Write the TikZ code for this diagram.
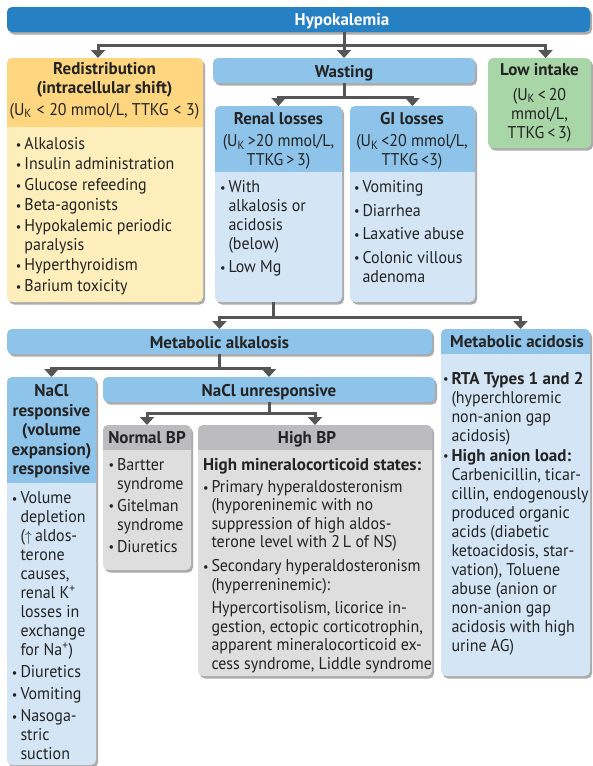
\documentclass[tikz,border=0pt]{standalone}
\usepackage{fontspec}
\setmainfont{PT Sans}[UprightFeatures={FakeStretch=0.94}, BoldFeatures={FakeStretch=1.0}]
\usepackage{tikz}
\usetikzlibrary{arrows.meta,shadows}

\definecolor{hypoblue}{RGB}{38,128,196}
\definecolor{headblue}{RGB}{143,196,234}
\definecolor{bodyblue}{RGB}{212,230,246}
\definecolor{yelhead}{RGB}{253,214,127}
\definecolor{yelbody}{RGB}{254,238,187}
\definecolor{lowgreen}{RGB}{168,214,166}
\definecolor{greyhead}{RGB}{188,188,190}
\definecolor{greybody}{RGB}{222,222,223}
\definecolor{ink}{RGB}{35,35,35}
\definecolor{wirec}{RGB}{85,85,85}

\newcommand{\UK}{U\textsubscript{K}}
\newcommand{\bul}{\makebox[8.5pt][l]{\raisebox{.3pt}{\fontsize{13}{13}\selectfont\textbullet}}}
\newcommand{\ind}{\hspace*{8.5pt}}

\begin{document}
\begin{tikzpicture}[x=1pt, y=-1pt,
    every node/.style={inner sep=0pt, outer sep=0pt, text=ink},
    card/.style={rounded corners=5pt, fill=#1,
      drop shadow={shadow xshift=2pt, shadow yshift=-2.5pt, fill=black!60, opacity=.55}},
    bar/.style={card=#1, anchor=north west, minimum height=25pt,
      text height=13.5pt, text depth=0pt, font=\fontsize{17}{19}\selectfont\bfseries},
    splitbox/.style n args={3}{card=#1, anchor=north west,
      path picture={\fill[#2, sharp corners] (path picture bounding box.north west)
        rectangle ([yshift=-#3pt]path picture bounding box.north east);}},
    tx/.style={font=\fontsize{17}{19}\selectfont, align=left, anchor=north west},
    hd/.style={font=\fontsize{17}{19}\selectfont, align=center, anchor=north},
    one/.style={font=\fontsize{17}{19}\selectfont\bfseries, anchor=base},
    wire/.style={draw=wirec, line width=3pt, line join=miter},
    arr/.style={wire, -{Triangle[width=14pt, length=8pt]}}]
  \useasboundingbox (0,0) rectangle (592,766);

  % top level
  \node[bar=hypoblue, minimum width=583pt] (hypo) at (7,7) {};
  \node[one, text=white] (hypo-t) at (342,25) {Hypokalemia};

  \node[splitbox={yelbody}{yelhead}{69}, minimum width=196pt, minimum height=244pt] (redis) at (7,58) {};
  \node[hd] (redis-t) at (104.5,61) {\strut\textbf{Redistribution}\\ \textbf{(intracellular shift)}\\[2.7pt] (\UK\;<\;20 mmol/L, TTKG\;<\;3)};
  \node[tx] (redis-l) at (16,136) {\strut\bul Alkalosis\\[1.5pt] \bul Insulin administration\\[1.5pt] \bul Glucose refeeding\\[1.5pt]
    \bul Beta-agonists\\[1.5pt] \bul Hypokalemic periodic\\ \ind paralysis\\[1.5pt] \bul Hyperthyroidism\\[1.5pt] \bul Barium toxicity};

  \node[bar=headblue, minimum width=262pt] (wast) at (213,58) {Wasting};

  \node[card=lowgreen, anchor=north west, minimum width=103pt, minimum height=90pt] (lowin) at (488,58) {};
  \node[hd] (lowin-t) at (539.5,61.7) {\strut\textbf{Low intake}\\[6pt] (\UK\,<\,20\\ mmol/L,\\ TTKG\,<\,3)};

  % wasting
  \node[splitbox={bodyblue}{headblue}{66}, minimum width=127pt, minimum height=196pt] (renal) at (215,106) {};
  \node[hd] (renal-t) at (278.5,110.7) {\strut\textbf{Renal losses}\\[3.7pt] (\UK\,>20 mmol/L,\\ TTKG\,>\,3)};
  \node[tx] (renal-l) at (220,179.4) {\strut\bul With\\ \ind alkalosis or\\ \ind acidosis\\ \ind (below)\\[3.6pt] \bul Low Mg};

  \node[splitbox={bodyblue}{headblue}{66}, minimum width=125pt, minimum height=196pt] (gi) at (350,106) {};
  \node[hd] (gi-t) at (412,110.7) {\strut\textbf{GI losses}\\[3.7pt] (\UK\,<20 mmol/L,\\ TTKG\,<3)};
  \node[tx] (gi-l) at (354,179.4) {\strut\bul Vomiting\\[4.5pt] \bul Diarrhea\\[4.5pt] \bul Laxative abuse\\[4.5pt] \bul Colonic villous\\ \ind adenoma};

  % acid-base
  \node[bar=headblue, minimum width=425pt] (malk) at (7,329) {Metabolic alkalosis};

  \node[splitbox={bodyblue}{headblue}{25}, minimum width=149pt, minimum height=347pt] (macid) at (441,329) {};
  \node[one] (macid-t) at (517,347.5) {Metabolic acidosis};
  \node[tx] (macid-l) at (443,370.7) {\strut\bul\textbf{RTA Types 1 and 2}\\ \ind (hyperchloremic\\ \ind non-anion gap\\ \ind acidosis)\\[1pt]
    \bul\textbf{High anion load:}\\ \ind Carbenicillin, ticar-\\ \ind cillin, endogenously\\ \ind produced organic\\ \ind acids (diabetic\\
    \ind ketoacidosis, star-\\ \ind vation), Toluene\\ \ind abuse (anion or\\ \ind non-anion gap\\ \ind acidosis with high\\ \ind urine AG)};

  \node[splitbox={bodyblue}{headblue}{106}, minimum width=89pt, minimum height=388pt] (resp) at (7,377) {};
  \node[hd, font=\fontsize{17}{19.5}\selectfont] (resp-t) at (51.5,383) {\strut\textbf{NaCl}\\ \textbf{responsive}\\ \textbf{(volume}\\ \textbf{expansion)}\\ \textbf{responsive}};
  \node[tx] (resp-l) at (12,490) {\strut\bul Volume\\ \ind depletion\\ \ind ({\fontsize{14}{14}\selectfont$\uparrow$}\,aldos-\\ \ind terone\\ \ind causes,\\ \ind renal K\textsuperscript{+}\\
    \ind losses in\\ \ind exchange\\ \ind for Na\textsuperscript{+})\\[3pt] \bul Diuretics\\[3pt] \bul Vomiting\\[3pt] \bul Nasoga-\\ \ind stric\\ \ind suction};

  \node[bar=headblue, minimum width=332pt] (unresp) at (103,377) {NaCl unresponsive};

  \node[splitbox={greybody}{greyhead}{25}, minimum width=88pt, minimum height=145pt] (normbp) at (103,425) {};
  \node[one] (normbp-t) at (147,443.3) {Normal BP};
  \node[tx] (normbp-l) at (108.5,456.7) {\strut\bul Bartter\\ \ind syndrome\\[3pt] \bul Gitelman\\ \ind syndrome\\[3pt] \bul Diuretics};

  \node[splitbox={greybody}{greyhead}{25}, minimum width=234pt, minimum height=251pt] (highbp) at (198,425) {};
  \node[one] (highbp-t) at (307,443.3) {High BP};
  \node[tx, font=\fontsize{17}{18.4}\selectfont] (highbp-l) at (203,457.8) {\strut\textbf{High mineralocorticoid states:}\\[3.5pt]
    \bul Primary hyperaldosteronism\\ \ind (hyporeninemic with no\\ \ind suppression of high aldos-\\ \ind terone level with 2\,L of NS)\\[5.5pt]
    \bul Secondary hyperaldosteronism\\ \ind (hyperreninemic):\\[5.5pt] \ind Hypercortisolism, licorice in-\\ \ind gestion, ectopic corticotrophin,\\
    \ind apparent mineralocorticoid ex-\\ \ind cess syndrome, Liddle syndrome};

  % connectors
  \coordinate (j1) at ([yshift=-13pt]wast.north |- hypo.south);
  \draw[wire] (wast.north |- hypo.south) -- (j1);
  \draw[arr] (j1) -| ([xshift=-7pt]redis.north);
  \draw[arr] (j1) -| (wast.north);
  \draw[arr] (j1) -| ([xshift=6pt]lowin.north);

  \coordinate (j2) at ([yshift=-14pt]wast.south);
  \draw[wire] (wast.south) -- (j2);
  \draw[arr] (j2) -| (renal.north);
  \draw[arr] (j2) -| (gi.north);

  \coordinate (j3) at ([xshift=-5pt, yshift=-15pt]renal.south);
  \draw[wire] ([xshift=-5pt]renal.south) -- (j3);
  \draw[arr] (j3) -| (malk.north);
  \draw[arr] (j3) -| ([xshift=5pt]macid.north);

  \coordinate (j4) at ([yshift=-14pt]malk.south);
  \draw[wire] (malk.south) -- (j4);
  \draw[arr] (j4) -| (resp.north);
  \draw[arr] (j4) -| (unresp.north);

  \coordinate (j5) at ([yshift=-11pt]unresp.south);
  \draw[wire] (unresp.south) -- (j5);
  \draw[arr] (j5) -| (normbp.north);
  \draw[arr] (j5) -| (highbp.north);
\end{tikzpicture}
\end{document}
